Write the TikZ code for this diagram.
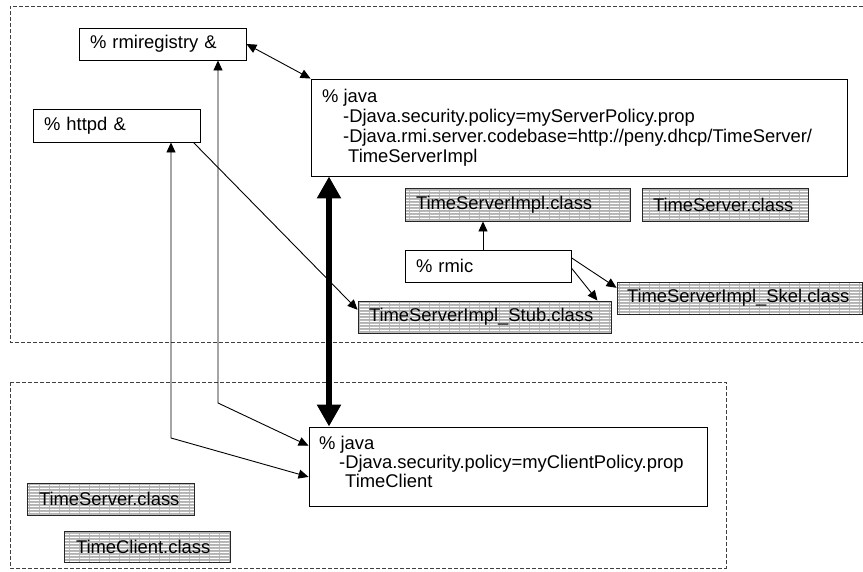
\documentclass[tikz,border=0pt]{standalone}
\usepackage{fontspec}
\setmainfont{Liberation Sans}
\usetikzlibrary{arrows.meta,calc,patterns.meta}
\hyphenpenalty=10000
\exhyphenpenalty=10000
\tikzdeclarepattern{
  name=hstripes,
  type=uncolored,
  bottom left={(0pt,0pt)},
  top right={(10pt,3.3pt)},
  tile size={(10pt,3.3pt)},
  code={\pgfpathrectangle{\pgfpoint{-0.1pt}{0pt}}{\pgfpoint{10.2pt}{1.4pt}}\pgfusepath{fill}}
}
\begin{document}
\begin{tikzpicture}[x=1pt,y=-1pt,
  txtfont/.style={font=\fontsize{18.4}{20}\selectfont},
  line/.style={inner sep=0pt, anchor=base west, txtfont},
  box/.style={draw=black, line width=0.9pt, rectangle, inner ysep=0pt, inner xsep=11pt, align=left, txtfont, fill=white},
  bigbox/.style={draw=black, line width=0.9pt, rectangle, inner sep=0pt, fill=white},
  cls/.style={draw=black!85, line width=0.9pt, rectangle, inner ysep=0pt, inner xsep=11pt, align=left, txtfont,
    preaction={fill=black!30}, pattern={hstripes}, pattern color=white},
  region/.style={draw=black!75, line width=0.9pt, dash pattern=on 4pt off 2pt},
  arr/.style={line width=0.9pt, -{Triangle[length=10pt,width=9pt]}},
  dbl/.style={line width=0.9pt, {Triangle[length=10pt,width=9pt]}-{Triangle[length=10pt,width=9pt]}},
  thick2/.style={line width=6.5pt, {Triangle[length=22pt,width=23pt]}-{Triangle[length=22pt,width=23pt]}}
]
\useasboundingbox (0,0) rectangle (863,571);

% dashed regions
\draw[region] (863,6) -- (10,6) -- (10,342) -- (863,342);
\draw[region] (10,382) rectangle (726,568);

% server side
\node[box, text width=145pt, minimum height=32pt] (reg) at (162.5,44) {\% rmiregistry \&};
\node[box, text width=145pt, minimum height=33pt] (httpd) at (116.5,125.5) {\% httpd \&};
\node[bigbox, minimum width=536pt, minimum height=97pt] (sjava) at (579,127.5) {};
\node[line] (sj1) at (322,102) {\% java};
\node[line] (sj2) at (343,122) {-Djava.security.policy=myServerPolicy.prop};
\node[line] (sj3) at (343,142) {-Djava.rmi.server.codebase=http://peny.dhcp/TimeServer/};
\node[line] (sj4) at (348,162) {TimeServerImpl};

\node[cls, text width=203pt, minimum height=33pt] (impl) at (517.5,204.5) {TimeServerImpl.class};
\node[cls, text width=144pt, minimum height=33pt] (ts) at (725,204.5) {TimeServer.class};
\node[box, text width=144pt, minimum height=32pt] (rmic) at (488,266) {\% rmic};
\node[cls, text width=231pt, minimum height=32pt] (stub) at (484.5,317) {TimeServerImpl\_Stub.class};
\node[cls, text width=225pt, inner xsep=10pt, minimum height=32pt] (skel) at (739.5,298) {TimeServerImpl\_Skel.class};

% client side
\node[bigbox, minimum width=398pt, minimum height=79pt] (cjava) at (508,466.5) {};
\node[line] (cj1) at (319,449) {\% java};
\node[line] (cj2) at (339,468) {-Djava.security.policy=myClientPolicy.prop};
\node[line] (cj3) at (345,487) {TimeClient};
\node[cls, text width=143pt, inner xsep=12pt, minimum height=32pt] (ts2) at (110.5,499) {TimeServer.class};
\node[cls, text width=142pt, inner xsep=12pt, minimum height=31pt] (tc) at (147,546.5) {TimeClient.class};

% connectors
\coordinate (b1) at (218,403);
\coordinate (b2) at (171,438);
\coordinate (r1) at (483,250);
\coordinate (t1) at (329,300);

\draw[dbl] (reg.east) -- (sjava.north west);
\draw[dbl] (reg.south -| b1) -- (b1) -- ($(cjava.north west)!0.24!(cjava.south west)$);
\draw[dbl] (httpd.south -| b2) -- (b2) -- ($(cjava.north west)!0.63!(cjava.south west)$);
\draw[arr] ($(httpd.south east)+(-7,0)$) -- ($(stub.north west)!0.28!(stub.south west)$);
\draw[arr] (r1) -- (r1 |- impl.south);
\draw[arr] ($(rmic.north east)!0.25!(rmic.south east)$) -- ($(skel.north west)!0.19!(skel.south west)$);
\draw[arr] ($(rmic.north east)!0.56!(rmic.south east)$) -- ($(stub.north east)+(-14,0)$);
\draw[thick2] (sjava.south -| t1) -- (cjava.north -| t1);
\end{tikzpicture}
\end{document}
